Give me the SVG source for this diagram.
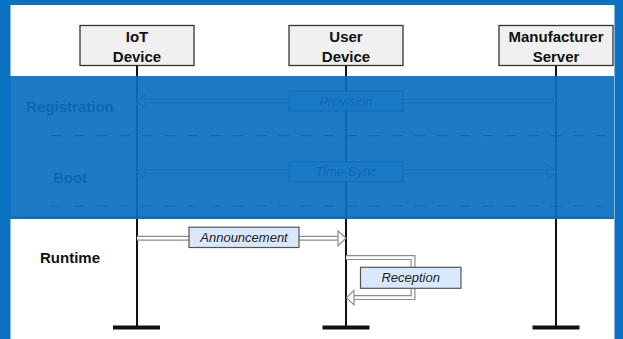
<svg xmlns="http://www.w3.org/2000/svg" width="623" height="339" viewBox="0 0 623 339">
  <style>
    .head { fill: #f0f0f0; stroke: #333; stroke-width: 1.3; }
    .headText { font-family: "Liberation Sans", Arial, sans-serif; font-size: 15px; font-weight: bold; fill: #111; text-anchor: middle; }
    .life { stroke: #111; stroke-width: 2; }
    .foot { fill: #111; }
    .section { font-family: "Liberation Sans", Arial, sans-serif; font-size: 15px; font-weight: bold; fill: #111; text-anchor: middle; }
    .divider { stroke: #333; stroke-width: 1.2; stroke-dasharray: 11 11.7; }
    .shaftOut { fill: none; stroke: #8c8c8c; stroke-width: 5; stroke-linejoin: miter; }
    .shaftIn { fill: none; stroke: #fff; stroke-width: 2.6; stroke-linejoin: miter; }
    .arrowHead { fill: #fff; stroke: #8c8c8c; stroke-width: 1.2; stroke-linejoin: miter; }
    .msgBox { fill: #dae8fc; stroke: #555; stroke-width: 1.2; }
    .msgText { font-family: "Liberation Sans", Arial, sans-serif; font-size: 13px; font-style: italic; fill: #222; text-anchor: middle; }
  </style>

  <!-- canvas -->
  <rect x="0" y="0" width="623" height="339" fill="#ffffff"/>

  <!-- participants -->
  <g id="iot-device">
    <line class="life" x1="137" y1="66" x2="137" y2="327"/>
    <rect class="foot" x="113" y="325.5" width="47" height="4"/>
    <rect class="head" x="80" y="25.5" width="114" height="40"/>
    <text class="headText" x="137" y="41.5">IoT</text>
    <text class="headText" x="137" y="61.5">Device</text>
  </g>
  <g id="user-device">
    <line class="life" x1="346" y1="66" x2="346" y2="327"/>
    <rect class="foot" x="322.5" y="325.5" width="47" height="4"/>
    <rect class="head" x="289" y="25.5" width="114" height="40"/>
    <text class="headText" x="346" y="41.5">User</text>
    <text class="headText" x="346" y="61.5">Device</text>
  </g>
  <g id="manufacturer-server">
    <line class="life" x1="556" y1="66" x2="556" y2="327"/>
    <rect class="foot" x="532.5" y="325.5" width="47" height="4"/>
    <rect class="head" x="499" y="25.5" width="114" height="40"/>
    <text class="headText" x="556" y="41.5">Manufacturer</text>
    <text class="headText" x="556" y="61.5">Server</text>
  </g>

  <!-- phase labels and separators -->
  <g id="phases">
    <text class="section" x="70" y="111.5">Registration</text>
    <line class="divider" x1="51" y1="135.7" x2="606" y2="135.7"/>
    <text class="section" x="70" y="182.5">Boot</text>
    <line class="divider" x1="51" y1="206" x2="606" y2="206"/>
    <text class="section" x="70" y="263">Runtime</text>
  </g>

  <!-- messages -->
  <g id="connectors">
    <!-- Provision: server to IoT device -->
    <g id="msg-provision">
      <path class="shaftOut" d="M556 101.3 H144"/>
      <path class="shaftIn" d="M556 101.3 H144"/>
      <polygon class="arrowHead" points="137,101.3 145,94.3 145,108.3"/>
      <rect class="msgBox" x="289" y="91" width="114" height="20"/>
      <text class="msgText" x="346" y="105.7">Provision</text>
    </g>
    <!-- Time Sync: both directions -->
    <g id="msg-timesync">
      <path class="shaftOut" d="M144 171.7 H549"/>
      <path class="shaftIn" d="M144 171.7 H549"/>
      <polygon class="arrowHead" points="137,171.7 145,164.7 145,178.7"/>
      <polygon class="arrowHead" points="556,171.7 548,164.7 548,178.7"/>
      <rect class="msgBox" x="289" y="161.7" width="114" height="20"/>
      <text class="msgText" x="346" y="176.4">Time Sync</text>
    </g>
    <!-- Announcement: IoT device to user device -->
    <g id="msg-announcement">
      <path class="shaftOut" d="M137 238.3 H339"/>
      <path class="shaftIn" d="M137 238.3 H339"/>
      <polygon class="arrowHead" points="346,238.3 338,230.8 338,245.8"/>
      <rect class="msgBox" x="189" y="227.2" width="110" height="20.3"/>
      <text class="msgText" x="244" y="241.8">Announcement</text>
    </g>
    <!-- Reception: self message on user device -->
    <g id="msg-reception">
      <path class="shaftOut" d="M346 257.6 H413 V297.6 H353"/>
      <path class="shaftIn" d="M346 257.6 H413 V297.6 H353"/>
      <polygon class="arrowHead" points="346.5,297.6 354,290.3 354,304.9"/>
      <rect class="msgBox" x="360.5" y="267.3" width="100.5" height="21"/>
      <text class="msgText" x="410.7" y="282.2">Reception</text>
    </g>
  </g>

  <!-- shaded band over the registration and boot phases -->
  <g id="phase-band">
    <rect x="10" y="76" width="604" height="143" fill="#0a6fc0" fill-opacity="0.92"/>
    <rect x="10" y="216.5" width="604" height="2.5" fill="#0a66b2" fill-opacity="0.6"/>
  </g>

  <!-- frame -->
  <g id="frame" fill="#0b71c1">
    <rect x="0" y="0" width="623" height="5"/>
    <rect x="0" y="0" width="10.5" height="339"/>
    <rect x="614.5" y="0" width="8.5" height="339"/>
  </g>
</svg>
